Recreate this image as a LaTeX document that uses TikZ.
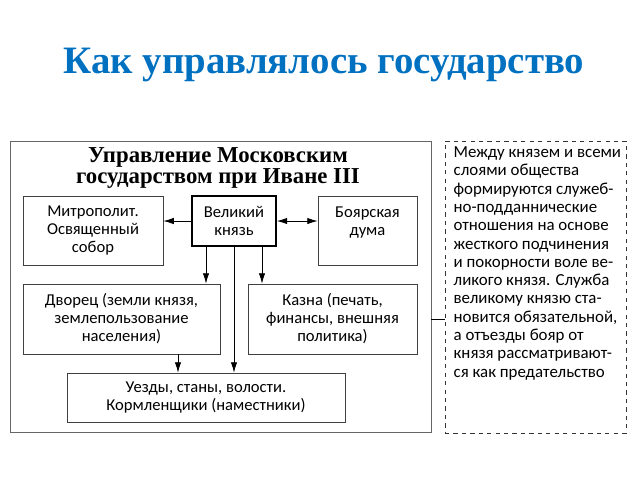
\documentclass[tikz,border=0pt]{standalone}
\usepackage{fontspec}
\setmainfont{Liberation Serif}
\newfontfamily\boxfont{Carlito}
\usetikzlibrary{arrows.meta,positioning}
\definecolor{titleblue}{HTML}{0070C0}

\begin{document}
\begin{tikzpicture}[
  box/.style={draw=black!75, line width=0.5pt, align=center, inner sep=1pt,
    font=\boxfont\fontsize{11.8}{12.8}\selectfont},
  chief/.style={box, draw=black, line width=1.2pt},
  line/.style={-{Latex[length=2.6mm,width=1.6mm]}, line width=0.6pt},
  both/.style={{Latex[length=2.6mm,width=1.6mm]}-{Latex[length=2.6mm,width=1.6mm]}, line width=0.6pt}
]
\useasboundingbox (0,0) rectangle (160mm,-120mm);

\node[font=\fontsize{27.6}{30}\selectfont\bfseries, text=titleblue] (title) at (81mm,-16.3mm) {Как управлялось государство};

% frame and heading
\node[draw=black!60, line width=0.6pt, minimum width=105.25mm, minimum height=72.75mm] (frame) at (55.125mm,-71.625mm) {};
\node[font=\fontsize{16.2}{14.8}\selectfont\bfseries, align=center] (head) at (54.5mm,-41.9mm) {Управление Московским\\государством при Иване III};

% boxes
\node[box, minimum width=35mm, minimum height=17.25mm] (mit) at (23.25mm,-57.625mm) {Митрополит.\\Освященный\\собор};
\node[chief, minimum width=21mm, minimum height=12.5mm] (vk) at (58.5mm,-55.25mm) {Великий\\князь};
\node[box, minimum width=24.75mm, minimum height=17.25mm] (bd) at (91.875mm,-57.625mm) {Боярская\\дума\\\mbox{}};
\node[box, minimum width=49.25mm, minimum height=17.5mm] (dv) at (30.375mm,-79.75mm) {Дворец (земли князя,\\землепользование\\населения)};
\node[box, minimum width=42.25mm, minimum height=17.5mm] (kz) at (83.125mm,-79.75mm) {Казна (печать,\\финансы, внешняя\\политика)};
\node[box, minimum width=69.5mm, minimum height=12.25mm] (uz) at (51.5mm,-99.375mm) {Уезды, станы, волости.\\Кормленщики (наместники)};

% note
\node[draw=black!80, dashed, line width=0.6pt, minimum width=45.25mm, minimum height=73mm] (note) at (133.875mm,-71.75mm) {};
\node[anchor=north west, align=left, inner sep=0pt, font=\boxfont\fontsize{12}{13}\selectfont] (notetext) at ([xshift=2.2mm,yshift=-1.5mm]note.north west) {Между князем и всеми\\слоями общества\\формируются служеб-\\но-подданнические\\отношения на основе\\жесткого подчинения\\и покорности воле ве-\\ликого князя. Служба\\великому князю ста-\\новится обязательной,\\а отъезды бояр от\\князя рассматривают-\\ся как предательство};

% connectors
\draw[line] (vk.west) -- (vk.west -| mit.east);
\draw[both] (vk.east) -- (vk.east -| bd.west);
\draw[line] ([xshift=-7mm]vk.south) -- ([xshift=-7mm]vk.south |- dv.north);
\draw[line] ([xshift=7mm]vk.south) -- ([xshift=7mm]vk.south |- kz.north);
\draw[line] (vk.south) -- (vk.south |- uz.north);
\draw[line] ([xshift=-7mm]uz.north |- dv.south) -- ([xshift=-7mm]uz.north);
\draw[line width=0.6pt] (frame.east |- kz.east) -- (note.west |- kz.east);
\end{tikzpicture}
\end{document}
